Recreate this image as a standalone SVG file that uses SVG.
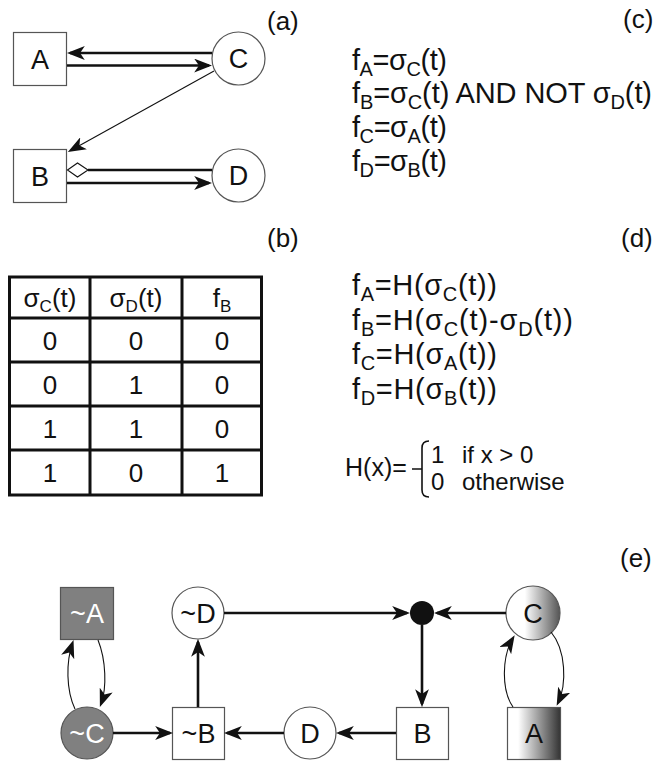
<svg xmlns="http://www.w3.org/2000/svg" width="656" height="761" viewBox="0 0 656 761">
<style>
text{font-family:"Liberation Sans",Arial,sans-serif;fill:#111;}
.lbl{font-size:26px;}
.nt{font-size:27px;text-anchor:middle;}
.wt{fill:#fff;}
.eq{font-size:29px;}
.tb{font-size:26px;text-anchor:middle;}
.node{fill:#fff;stroke:#555;stroke-width:1.2;}
.gray{fill:#808080;stroke:#555;stroke-width:1.2;}
.thick{stroke:#111;stroke-width:2.6;fill:none;}
.thin{stroke:#111;stroke-width:1.1;fill:none;}
.grid{stroke:#111;stroke-width:3;fill:none;}
</style>
<defs>
<marker id="ah" viewBox="0 0 17 13" refX="14" refY="6.5" markerWidth="18" markerHeight="14" markerUnits="userSpaceOnUse" orient="auto">
<path d="M0,0 L17,6.5 L0,13 L4.5,6.5 Z" fill="#111"/>
</marker>
<linearGradient id="gc" x1="0" y1="0" x2="1" y2="0">
<stop offset="0.35" stop-color="#fff"/>
<stop offset="1" stop-color="#555"/>
</linearGradient>
<linearGradient id="ga" x1="0" y1="0" x2="1" y2="0">
<stop offset="0.2" stop-color="#fff"/>
<stop offset="1" stop-color="#333"/>
</linearGradient>
</defs>

<!-- panel labels -->
<text class="lbl" x="267" y="30">(a)</text>
<text class="lbl" x="623" y="28">(c)</text>
<text class="lbl" x="267" y="247">(b)</text>
<text class="lbl" x="621" y="247">(d)</text>
<text class="lbl" x="620" y="567">(e)</text>

<!-- panel (a) nodes -->
<g id="a-A"><rect class="node" x="13.5" y="32.5" width="53" height="53"/><text class="nt" x="40" y="68.5">A</text></g>
<g id="a-C"><circle class="node" cx="238.5" cy="58.5" r="26.5"/><text class="nt" x="238.5" y="68">C</text></g>
<g id="a-B"><rect class="node" x="13.5" y="149.5" width="53" height="53"/><text class="nt" x="40" y="185.5">B</text></g>
<g id="a-D"><circle class="node" cx="238.5" cy="175.5" r="26.5"/><text class="nt" x="238.5" y="185">D</text></g>

<!-- panel (a) connectors -->
<g id="a-connectors">
<path class="thick" d="M212,53 H70" marker-end="url(#ah)"/>
<path class="thick" d="M67,65.5 H209" marker-end="url(#ah)"/>
<path class="thin" d="M214,71 L70.6,150.5" marker-end="url(#ah)"/>
<path class="thick" d="M88,170 H212"/>
<polygon points="67.5,170 77.5,163 88,170 77.5,177" fill="#fff" stroke="#111" stroke-width="1.1"/>
<path class="thick" d="M67,183 H209" marker-end="url(#ah)"/>
</g>

<!-- panel (c) -->
<g id="c-equations" class="eq">
<text x="352" y="70" textLength="95" lengthAdjust="spacing">f<tspan dy="6" font-size="20">A</tspan><tspan dy="-6">=σ</tspan><tspan dy="6" font-size="20">C</tspan><tspan dy="-6">(t)</tspan></text>
<text x="352" y="103" textLength="300" lengthAdjust="spacing">f<tspan dy="6" font-size="20">B</tspan><tspan dy="-6">=σ</tspan><tspan dy="6" font-size="20">C</tspan><tspan dy="-6">(t) AND NOT σ</tspan><tspan dy="6" font-size="20">D</tspan><tspan dy="-6">(t)</tspan></text>
<text x="352" y="137" textLength="95" lengthAdjust="spacing">f<tspan dy="6" font-size="20">C</tspan><tspan dy="-6">=σ</tspan><tspan dy="6" font-size="20">A</tspan><tspan dy="-6">(t)</tspan></text>
<text x="352" y="171" textLength="95" lengthAdjust="spacing">f<tspan dy="6" font-size="20">D</tspan><tspan dy="-6">=σ</tspan><tspan dy="6" font-size="20">B</tspan><tspan dy="-6">(t)</tspan></text>
</g>

<!-- panel (b) table -->
<g id="b-table">
<rect class="grid" x="9.5" y="277" width="252" height="218"/>
<path class="grid" d="M90,277 V495 M182,277 V495 M9.5,318 H261.5 M9.5,362 H261.5 M9.5,406 H261.5 M9.5,450 H261.5"/>
<text class="tb" x="50" y="307">σ<tspan dy="5" font-size="17">C</tspan><tspan dy="-5">(t)</tspan></text>
<text class="tb" x="136" y="307">σ<tspan dy="5" font-size="17">D</tspan><tspan dy="-5">(t)</tspan></text>
<text class="tb" x="222" y="307">f<tspan dy="5" font-size="17">B</tspan></text>
<text class="tb" x="50" y="350">0</text><text class="tb" x="136" y="350">0</text><text class="tb" x="222" y="350">0</text>
<text class="tb" x="50" y="394">0</text><text class="tb" x="136" y="394">1</text><text class="tb" x="222" y="394">0</text>
<text class="tb" x="50" y="438">1</text><text class="tb" x="136" y="438">1</text><text class="tb" x="222" y="438">0</text>
<text class="tb" x="50" y="482">1</text><text class="tb" x="136" y="482">0</text><text class="tb" x="222" y="482">1</text>
</g>

<!-- panel (d) -->
<g id="d-equations" class="eq">
<text x="352" y="295" textLength="145" lengthAdjust="spacing">f<tspan dy="6" font-size="20">A</tspan><tspan dy="-6">=H(σ</tspan><tspan dy="6" font-size="20">C</tspan><tspan dy="-6">(t))</tspan></text>
<text x="352" y="330" textLength="221" lengthAdjust="spacing">f<tspan dy="6" font-size="20">B</tspan><tspan dy="-6">=H(σ</tspan><tspan dy="6" font-size="20">C</tspan><tspan dy="-6">(t)-σ</tspan><tspan dy="6" font-size="20">D</tspan><tspan dy="-6">(t))</tspan></text>
<text x="352" y="364" textLength="145" lengthAdjust="spacing">f<tspan dy="6" font-size="20">C</tspan><tspan dy="-6">=H(σ</tspan><tspan dy="6" font-size="20">A</tspan><tspan dy="-6">(t))</tspan></text>
<text x="352" y="399" textLength="145" lengthAdjust="spacing">f<tspan dy="6" font-size="20">D</tspan><tspan dy="-6">=H(σ</tspan><tspan dy="6" font-size="20">B</tspan><tspan dy="-6">(t))</tspan></text>
</g>
<g id="d-heaviside">
<text x="345" y="476" font-size="25">H(x)=</text>
<path d="M429,441 Q422,441 422,448 V490 Q422,497 429,497 M412,469 H422" fill="none" stroke="#111" stroke-width="1.6"/>
<text x="431" y="463" font-size="24">1</text>
<text x="462" y="463" font-size="24">if x &gt; 0</text>
<text x="431" y="490" font-size="24">0</text>
<text x="462" y="490" font-size="24">otherwise</text>
</g>

<!-- panel (e) nodes -->
<g id="e-notA"><rect class="gray" x="60.5" y="587.5" width="53" height="52"/><text class="nt wt" x="87" y="623">~A</text></g>
<g id="e-notC"><circle class="gray" cx="87" cy="733" r="26"/><text class="nt wt" x="87" y="742.5">~C</text></g>
<g id="e-notD"><circle class="node" cx="198" cy="613" r="26"/><text class="nt" x="198" y="622.5">~D</text></g>
<g id="e-notB"><rect class="node" x="172.5" y="707.5" width="52" height="52"/><text class="nt" x="198.5" y="743">~B</text></g>
<g id="e-D"><circle class="node" cx="310" cy="733" r="26"/><text class="nt" x="310" y="742.5">D</text></g>
<g id="e-dot"><circle cx="422" cy="613" r="12" fill="#111"/></g>
<g id="e-C"><circle cx="533" cy="613" r="27" fill="url(#gc)" stroke="#555" stroke-width="1.2"/><text class="nt" x="533" y="622.5">C</text></g>
<g id="e-B"><rect class="node" x="396.5" y="707.5" width="52" height="52"/><text class="nt" x="422.5" y="743">B</text></g>
<g id="e-A"><rect x="507.5" y="707.5" width="53" height="52" fill="url(#ga)" stroke="#555" stroke-width="1.2"/><text class="nt" x="534" y="743">A</text></g>

<!-- panel (e) connectors -->
<g id="e-connectors">
<path class="thick" d="M224,613 H407" marker-end="url(#ah)"/>
<path class="thick" d="M506,613 H437" marker-end="url(#ah)"/>
<path class="thick" d="M422,625 V704" marker-end="url(#ah)"/>
<path class="thick" d="M396,733 H339" marker-end="url(#ah)"/>
<path class="thick" d="M284,733 H227" marker-end="url(#ah)"/>
<path class="thick" d="M113,733 H170" marker-end="url(#ah)"/>
<path class="thick" d="M198,707 V642" marker-end="url(#ah)"/>
<path class="thin" d="M75,709 C66,690 66,662 72.5,643" marker-end="url(#ah)"/>
<path class="thin" d="M98,640 C106,660 107,688 101,704" marker-end="url(#ah)"/>
<path class="thin" d="M513,707 C501,690 502,656 513,638" marker-end="url(#ah)"/>
<path class="thin" d="M551,632 C566,650 567,684 558,703" marker-end="url(#ah)"/>
</g>
</svg>
